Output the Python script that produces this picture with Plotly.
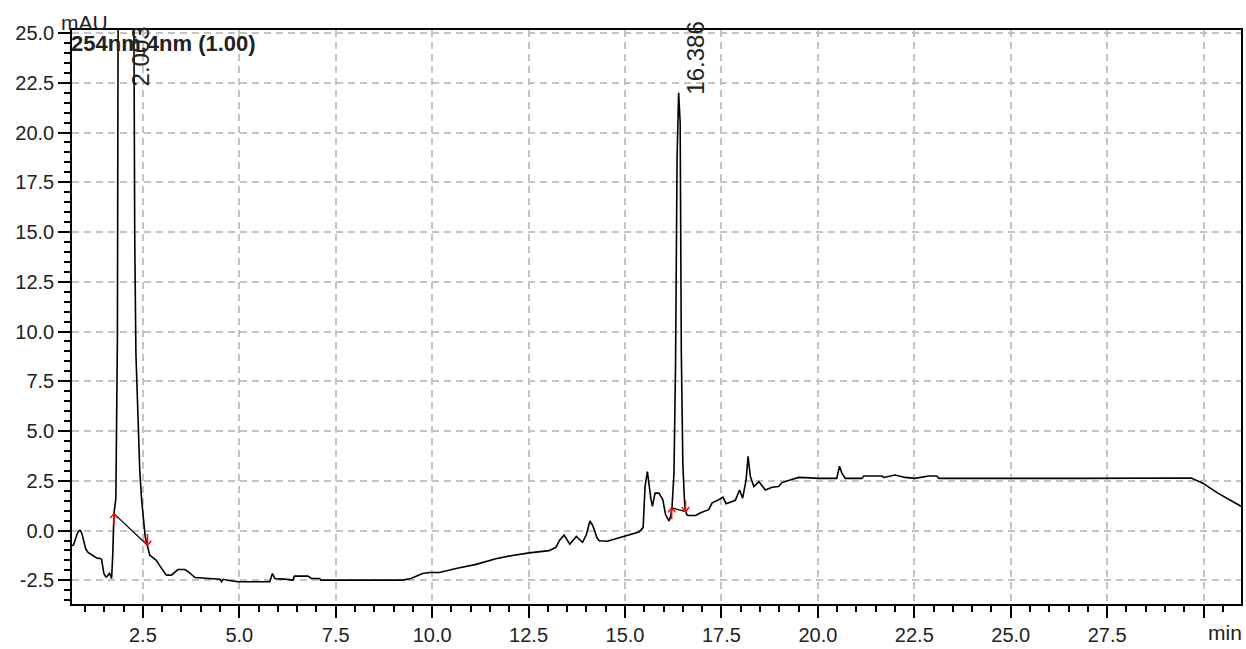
import plotly.graph_objects as go

# ---- chromatogram data (time in min, signal in mAU) ----
time_min = [
    0.66, 0.70, 0.75, 0.80, 0.85, 0.88, 0.92, 0.97, 1.02, 1.08, 1.13, 1.20, 1.28, 1.35, 1.39,
    1.43, 1.47, 1.49, 1.53, 1.56, 1.60, 1.63, 1.66, 1.69, 1.72, 1.75, 1.80, 1.84, 1.88, 1.92,
    1.96, 2.003, 2.05, 2.10, 2.15, 2.20, 2.25, 2.29, 2.32, 2.38, 2.42, 2.47, 2.51, 2.56, 2.61,
    2.68, 2.75, 2.85, 2.95, 3.05, 3.11, 3.24, 3.33, 3.41, 3.59, 3.70, 3.85, 3.97, 4.23, 4.50,
    4.54, 4.58, 4.70, 4.97, 5.40, 5.79, 5.86, 5.92, 6.17, 6.39, 6.43, 6.78, 6.87, 7.08, 7.12,
    8.00, 9.24, 9.45, 9.75, 9.93, 10.19, 10.62, 11.14, 11.65, 12.08, 12.52, 12.80, 13.03, 13.21, 13.30,
    13.42, 13.50, 13.57, 13.65, 13.74, 13.82, 13.90, 14.00, 14.09, 14.15, 14.20, 14.27, 14.33, 14.54, 14.84,
    15.10, 15.36, 15.47, 15.52, 15.58, 15.62, 15.67, 15.71, 15.78, 15.88, 15.98, 16.05, 16.10, 16.14, 16.18,
    16.22, 16.27, 16.31, 16.35, 16.39, 16.43, 16.46, 16.50, 16.55, 16.60, 16.64, 16.83, 16.96, 17.17, 17.26,
    17.43, 17.54, 17.62, 17.86, 17.97, 18.05, 18.14, 18.19, 18.25, 18.34, 18.47, 18.64, 18.81, 18.98, 19.07,
    19.16, 19.33, 19.50, 19.68, 20.03, 20.49, 20.56, 20.62, 20.71, 21.14, 21.19, 21.66, 21.71, 22.00, 22.26,
    22.52, 22.87, 23.08, 23.14, 26.75, 29.68, 29.98, 30.37, 30.97,
]
signal_mau = [
    -0.75, -0.73, -0.45, -0.15, 0.0, 0.0, -0.15, -0.6, -0.93, -1.1, -1.17, -1.25, -1.35, -1.4, -1.39,
    -1.45, -1.9, -2.16, -2.3, -2.33, -2.25, -2.15, -2.25, -2.41, -1.2, 0.85, 1.6, 9.6, 45.0, 120.0,
    200.0, 240.0, 210.0, 150.0, 100.0, 60.0, 30.0, 14.6, 8.9, 5.0, 3.0, 1.5, 0.5, -0.3, -0.7,
    -1.24, -1.35, -1.5, -1.8, -2.1, -2.24, -2.24, -2.1, -1.96, -1.96, -2.1, -2.36, -2.38, -2.41, -2.45,
    -2.57, -2.45, -2.5, -2.57, -2.57, -2.57, -2.16, -2.41, -2.44, -2.49, -2.29, -2.29, -2.41, -2.41, -2.49,
    -2.49, -2.49, -2.41, -2.16, -2.11, -2.11, -1.91, -1.70, -1.42, -1.25, -1.12, -1.08, -1.01, -0.84, -0.5,
    -0.23, -0.5, -0.68, -0.5, -0.30, -0.45, -0.59, -0.2, 0.48, 0.3, 0.07, -0.35, -0.51, -0.54, -0.38,
    -0.23, -0.07, 0.15, 2.21, 2.96, 2.21, 1.6, 1.22, 1.88, 1.88, 1.55, 0.81, 0.6, 0.48, 0.7,
    1.2, 2.9, 8.3, 18.7, 22.0, 20.5, 8.9, 3.3, 1.2, 0.8, 0.76, 0.76, 0.89, 1.05, 1.39,
    1.55, 1.68, 1.35, 1.52, 2.04, 1.63, 2.54, 3.73, 2.71, 2.21, 2.46, 2.04, 2.18, 2.21, 2.41,
    2.46, 2.54, 2.67, 2.66, 2.62, 2.62, 3.23, 2.9, 2.62, 2.62, 2.74, 2.74, 2.67, 2.79, 2.67,
    2.62, 2.74, 2.74, 2.62, 2.62, 2.64, 2.38, 1.88, 1.22,
]

# ---- integration markers ----
peak_rt = [2.003, 16.386]
peak_labels = ["2.003", "16.386"]
peak_label_y = [22.2, 21.8]
peak_start_t = [1.75, 16.21]
peak_start_y = [0.85, 1.14]
peak_end_t = [2.62, 16.57]
peak_end_y = [-0.74, 0.95]

# ---- axes ----
x_tickvals = [2.5, 5.0, 7.5, 10.0, 12.5, 15.0, 17.5, 20.0, 22.5, 25.0, 27.5, 30.0]
x_ticktext = ["2.5", "5.0", "7.5", "10.0", "12.5", "15.0", "17.5", "20.0", "22.5", "25.0", "27.5", ""]
y_tickvals = [-2.5, 0.0, 2.5, 5.0, 7.5, 10.0, 12.5, 15.0, 17.5, 20.0, 22.5, 25.0]
y_ticktext = ["-2.5", "0.0", "2.5", "5.0", "7.5", "10.0", "12.5", "15.0", "17.5", "20.0", "22.5", "25.0"]
x_range = [0.663, 30.97]
y_range = [-3.69, 25.15]

channel_label = "254nm,4nm (1.00)"
y_unit = "mAU"
x_unit = "min"

FONT = "Liberation Sans, Arial, sans-serif"

fig = go.Figure()
fig.add_trace(go.Scatter(
    x=time_min, y=signal_mau, mode="lines",
    line=dict(color="black", width=1.6), hoverinfo="x+y", showlegend=False,
))

# baselines between peak start and end
bx, by = [], []
for t0, y0, t1, y1 in zip(peak_start_t, peak_start_y, peak_end_t, peak_end_y):
    bx += [t0, t1, None]
    by += [y0, y1, None]
fig.add_trace(go.Scatter(x=bx, y=by, mode="lines", line=dict(color="black", width=1.3),
                         showlegend=False, hoverinfo="skip"))

annotations = []
red = "#ff0000"


def arrow(x, y, up):
    s = 1 if up else -1
    parts = [(0, 13 * s), (-5, 6 * s), (5, 6 * s)]
    for ax, ay in parts:
        annotations.append(dict(
            x=x, y=y, xref="x", yref="y", text="", showarrow=True, arrowhead=0,
            ax=ax, ay=ay, axref="pixel", ayref="pixel", arrowcolor=red, arrowwidth=1.5,
            standoff=0, startstandoff=0,
        ))


for t, yv in zip(peak_start_t, peak_start_y):
    arrow(t, yv, True)
for t, yv in zip(peak_end_t, peak_end_y):
    arrow(t, yv, False)

for t, lab, ly in zip(peak_rt, peak_labels, peak_label_y):
    annotations.append(dict(
        x=t, y=ly, xref="x", yref="y", text=lab, showarrow=False, textangle=-90,
        xanchor="center", yanchor="bottom", xshift=17,
        font=dict(family=FONT, size=24, color="#222"),
    ))

annotations.append(dict(
    x=0, y=1, xref="paper", yref="paper", text="<b>" + channel_label + "</b>",
    showarrow=False, xanchor="left", yanchor="top", xshift=-3, yshift=1,
    font=dict(family=FONT, size=22, color="#222"),
))
annotations.append(dict(
    x=0, y=1, xref="paper", yref="paper", text=y_unit, showarrow=False,
    xanchor="center", yanchor="bottom", xshift=12, yshift=-6,
    font=dict(family=FONT, size=21, color="#222"),
))
annotations.append(dict(
    x=1, y=0, xref="paper", yref="paper", text=x_unit, showarrow=False,
    xanchor="right", yanchor="top", xshift=3, yshift=-15,
    font=dict(family=FONT, size=21, color="#222"),
))

axis_common = dict(
    showline=True, linecolor="black", linewidth=1.5, mirror=True,
    ticks="outside", ticklen=12, tickwidth=1.5, tickcolor="black",
    showgrid=True, gridcolor="#c4c4c4", gridwidth=1.5, griddash="7px,5px",
    zeroline=False, tickfont=dict(family=FONT, size=20, color="#222"),
    tickmode="array",
    minor=dict(dtick=0.5, tick0=0, ticks="outside", ticklen=6, tickwidth=1.5,
               tickcolor="black", showgrid=False),
)

fig.update_layout(
    width=1246, height=649,
    margin=dict(l=72, r=3, t=30, b=36),
    paper_bgcolor="white", plot_bgcolor="white",
    xaxis=dict(range=x_range, tickvals=x_tickvals, ticktext=x_ticktext, **axis_common),
    yaxis=dict(range=y_range, tickvals=y_tickvals, ticktext=y_ticktext, **axis_common),
    annotations=annotations,
    showlegend=False,
)

fig.write_html("out.html", config={"displayModeBar": False},
               post_script="document.body.style.margin='0';")
